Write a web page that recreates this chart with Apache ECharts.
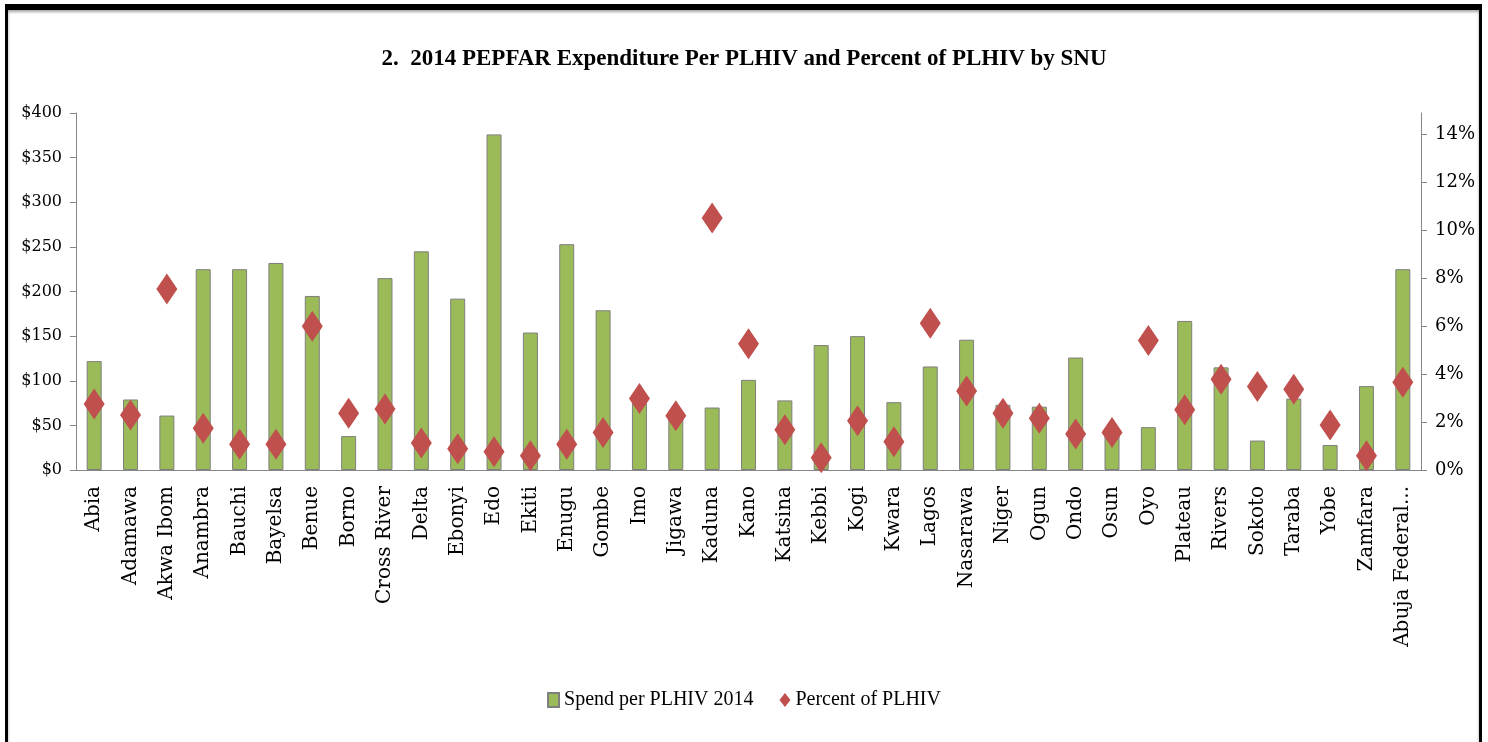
<!DOCTYPE html>
<html>
<head>
<meta charset="utf-8">
<title>PEPFAR Expenditure Per PLHIV</title>
<script src="https://cdn.jsdelivr.net/npm/echarts@6/dist/echarts.min.js"></script>
<style>
    html, body { margin: 0; padding: 0; background: #fff; }
    #wrap { position: relative; width: 1488px; height: 742px; overflow: hidden; }
    #chartMain { position: absolute; left: 0; top: 0; width: 1488px; height: 742px; }
    #frame {
        position: absolute; left: 5px; top: 4px; width: 1471px; height: 760px;
        border: 3px solid #000; border-top-width: 6px;
        box-shadow: inset 0 2px 3px rgba(0,0,0,0.35);
        pointer-events: none;
    }
</style>
</head>
<body>
<div id="wrap">
    <div id="chartMain"></div>
    <div id="frame"></div>
</div>
<script>
// SNU names (x axis)
var snuNames = ['Abia', 'Adamawa', 'Akwa Ibom', 'Anambra', 'Bauchi', 'Bayelsa', 'Benue', 'Borno',
    'Cross River', 'Delta', 'Ebonyi', 'Edo', 'Ekiti', 'Enugu', 'Gombe', 'Imo', 'Jigawa', 'Kaduna',
    'Kano', 'Katsina', 'Kebbi', 'Kogi', 'Kwara', 'Lagos', 'Nasarawa', 'Niger', 'Ogun', 'Ondo',
    'Osun', 'Oyo', 'Plateau', 'Rivers', 'Sokoto', 'Taraba', 'Yobe', 'Zamfara', 'Abuja Federal...'];

// spend per PLHIV 2014, dollars (left axis)
var spendPerPlhiv = [122, 79, 61, 225, 225, 232, 195, 38,
    215, 245, 192, 376, 154, 253, 179, 75, 60, 70,
    101, 78, 140, 150, 76, 116, 146, 73, 71, 126,
    47, 48, 167, 115, 33, 80, 28, 94, 225];

// percent of PLHIV (right axis)
var percentPlhiv = [2.75, 2.30, 7.55, 1.74, 1.07, 1.07, 6.00, 2.37,
    2.55, 1.13, 0.89, 0.76, 0.59, 1.07, 1.56, 2.98, 2.26, 10.52,
    5.27, 1.68, 0.51, 2.06, 1.18, 6.13, 3.30, 2.37, 2.16, 1.50,
    1.56, 5.40, 2.51, 3.79, 3.48, 3.37, 1.88, 0.59, 3.66];

// tick labels
var dollarTicks = [0, 50, 100, 150, 200, 250, 300, 350, 400];
var percentTicks = [0, 2, 4, 6, 8, 10, 12, 14];

var axisGray = '#868686';
var serifFont = 'DejaVu Serif';

var chartMain = echarts.init(document.getElementById('chartMain'));
var chartMainOption = {
    animation: false,
    title: {
        text: '2.  2014 PEPFAR Expenditure Per PLHIV and Percent of PLHIV by SNU',
        left: 'center',
        top: 43,
        textStyle: {
            color: '#000',
            fontFamily: 'Liberation Serif',
            fontWeight: 'bold',
            fontSize: 23
        }
    },
    legend: {
        bottom: 27,
        left: 'center',
        itemGap: 26,
        itemWidth: 11,
        itemHeight: 14,
        textStyle: {
            color: '#000',
            fontFamily: 'Liberation Serif',
            fontSize: 20
        },
        data: [
            {name: 'Spend per PLHIV 2014', icon: 'rect'},
            {name: 'Percent of PLHIV', icon: 'diamond'}
        ]
    },
    grid: {
        left: 76,
        right: 67,
        top: 113,
        bottom: 272
    },
    xAxis: [
        {
            type: 'category',
            data: snuNames,
            axisLine: {lineStyle: {color: axisGray}},
            axisTick: {
                interval: 0,
                length: 6,
                lineStyle: {color: axisGray}
            },
            axisLabel: {
                interval: 0,
                rotate: 90,
                margin: 16,
                color: '#000',
                fontFamily: serifFont,
                fontSize: 20
            }
        }
    ],
    yAxis: [
        {
            type: 'value',
            min: 0,
            max: 400,
            interval: 50,
            splitLine: {show: false},
            axisLine: {show: true, lineStyle: {color: axisGray}},
            axisTick: {show: true, length: 6, lineStyle: {color: axisGray}, customValues: dollarTicks},
            axisLabel: {
                color: '#000',
                fontFamily: serifFont,
                fontSize: 16,
                margin: 14,
                customValues: dollarTicks,
                formatter: function (v) { return '$' + v; }
            }
        },
        {
            type: 'value',
            min: 0,
            max: 14.9,
            interval: 2,
            splitLine: {show: false},
            axisLine: {show: true, lineStyle: {color: axisGray}},
            axisTick: {show: true, length: 6, lineStyle: {color: axisGray}, customValues: percentTicks},
            axisLabel: {
                color: '#000',
                fontFamily: serifFont,
                fontSize: 18,
                margin: 14,
                customValues: percentTicks,
                formatter: function (v) { return v + '%'; }
            }
        }
    ],
    series: [
        {
            name: 'Spend per PLHIV 2014',
            type: 'bar',
            yAxisIndex: 0,
            barWidth: 15,
            data: spendPerPlhiv,
            itemStyle: {
                color: '#9BBB59',
                borderColor: '#7F7F7F',
                borderWidth: 1
            }
        },
        {
            name: 'Percent of PLHIV',
            type: 'scatter',
            yAxisIndex: 1,
            symbol: 'diamond',
            symbolSize: [21, 31],
            data: percentPlhiv,
            itemStyle: {
                color: '#C0504D',
                opacity: 1
            },
            z: 3
        }
    ]
};
chartMain.setOption(chartMainOption);

window.onresize = chartMain.resize;
</script>
</body>
</html>
